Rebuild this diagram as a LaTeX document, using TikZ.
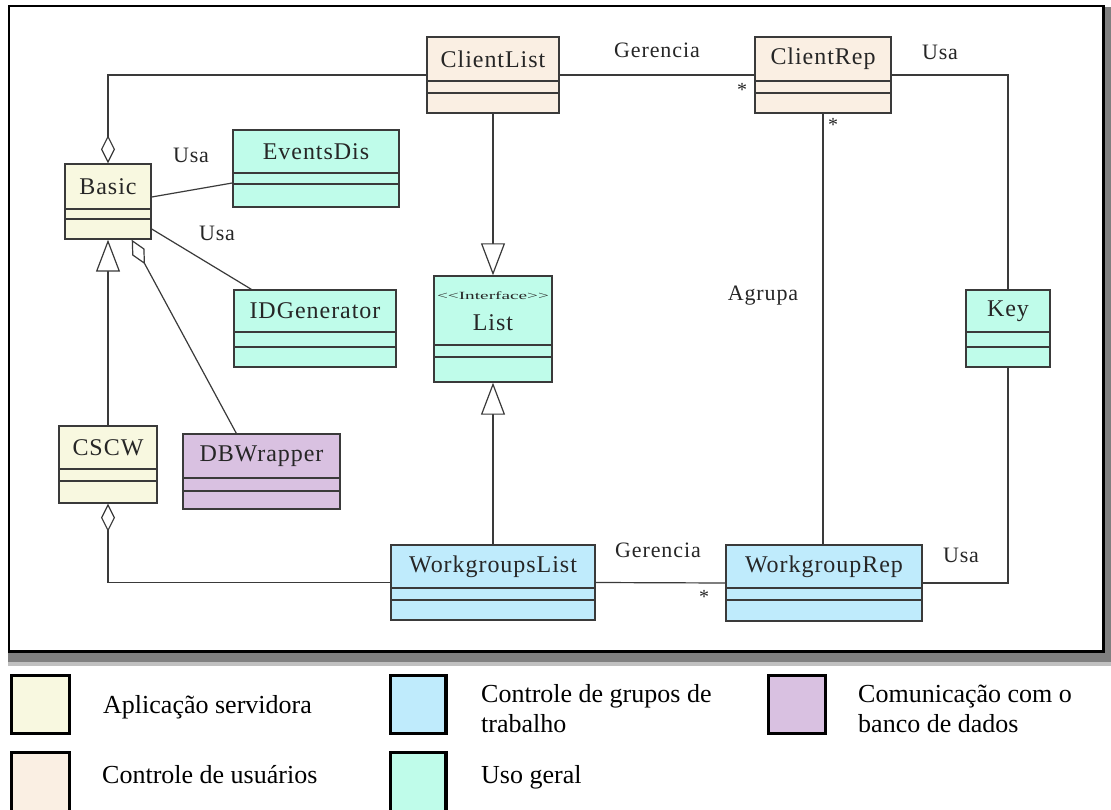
\documentclass[tikz,border=0pt]{standalone}
\usepackage{fontspec}
\usepackage{graphicx}
\setmainfont{Liberation Serif}
\newfontfamily\umlfont[LetterSpace=4]{Liberation Serif}
\usetikzlibrary{arrows.meta,fit,calc}

\definecolor{cyel}{HTML}{F8F8E0}
\definecolor{cpeach}{HTML}{FAEFE3}
\definecolor{cmint}{HTML}{BFFCEA}
\definecolor{cblue}{HTML}{BFEBFC}
\definecolor{clilac}{HTML}{D9C1E1}
\definecolor{edgecol}{HTML}{3A3A3A}
\definecolor{shadowdark}{HTML}{808080}
\definecolor{shadowlight}{HTML}{C0C0C0}

\tikzset{
  classbox/.style={draw=edgecol, line width=1.4pt, inner sep=0pt},
  compline/.style={draw=edgecol, line width=1.2pt},
  ctitle/.style={font=\umlfont\fontsize{24}{26}\selectfont, text=black!85, inner sep=0pt},
  rolelabel/.style={font=\umlfont\fontsize{22}{24}\selectfont, text=black!85, inner sep=0pt},
  mult/.style={font=\fontsize{20}{20}\selectfont, text=black!85, inner sep=0pt},
  assoc/.style={draw=edgecol, line width=1.2pt},
  aggr/.style={assoc, -{Diamond[open, fill=white, length=28pt, width=14pt]}},
  inherit/.style={assoc, -{Triangle[open, fill=white, length=32pt, width=24pt]}},
  legbox/.style={draw=black, line width=3.5pt},
  legtext/.style={font=\fontsize{26}{30}\selectfont, anchor=base west, inner sep=0pt},
}

% class box: name, fill, left, top, right, bottom, first and second compartment lines, title
\newcommand{\umlclass}[9]{%
  \node[classbox, fill=#2, fit={(#3,#4) (#5,#6)}] (#1) {};
  \draw[compline] (#3,#7) -- (#5,#7) (#3,#8) -- (#5,#8);
  \node[ctitle] (#1-name) at ({(#3+#5)/2},{(#4+#7)/2}) {#9};
}

\begin{document}
\begin{tikzpicture}[x=1pt,y=-1pt]
\useasboundingbox (0,0) rectangle (1111,810);

% framed panel with its drop shadow
\fill[shadowlight] (8,653) rectangle (1111,666);
\fill[shadowdark] (8,653) rectangle (1111,662);
\fill[shadowdark] (1104,7) rectangle (1111,662);
\draw[black, line width=2.8pt, fill=white] (9,6) rectangle (1103.5,651.5);

% classes
\umlclass{clientlist}{cpeach}{427}{37}{559}{113}{81}{93}{ClientList}
\umlclass{clientrep}{cpeach}{755}{37}{891}{113}{81}{93}{ClientRep}
\umlclass{basic}{cyel}{65}{164}{151}{239}{209}{219}{Basic}
\umlclass{eventsdis}{cmint}{233}{130}{399}{207}{173}{184}{EventsDis}
\umlclass{idgen}{cmint}{234}{290}{396}{367}{332}{347}{IDGenerator}
\umlclass{key}{cmint}{966}{290}{1050}{367}{332}{347}{Key}
\umlclass{cscw}{cyel}{59}{426}{157}{503}{469}{481}{CSCW}
\umlclass{dbw}{clilac}{183}{434}{340}{509}{478}{491}{DBWrapper}
\umlclass{wglist}{cblue}{391}{545}{595}{620}{588}{600}{WorkgroupsList}
\umlclass{wgrep}{cblue}{726}{545}{922}{621}{588}{600}{WorkgroupRep}

% interface List with its stereotype
\node[classbox, fill=cmint, fit={(434,276) (552,382)}] (list) {};
\draw[compline] (434,345) -- (552,345) (434,357) -- (552,357);
\node[inner sep=0pt, text=black!85] (list-stereo) at (493,296)
  {\scalebox{1.75}[1]{\fontsize{11}{11}\selectfont <{}<Interface>{}>}};
\node[ctitle] (list-name) at (493,323) {List};

% generalisations
\draw[inherit] (clientlist.south) -- (list.north);
\draw[inherit] (wglist.north) -- (list.south);
\draw[inherit] (cscw.north) -- (basic.south);

% aggregations
\draw[aggr] (clientlist.west) -| (basic.north);
\draw[aggr] (wglist.west) -| (cscw.south);
\draw[aggr] ($(dbw.north west)+(54,0)$) -- ($(basic.south east)+(-20,0)$);

% associations
\draw[assoc] ($(basic.east)+(0,-4.5)$) -- ($(eventsdis.west)+(0,14.5)$);
\draw[assoc] ($(basic.east)+(0,27.5)$) -- ($(idgen.north west)+(18,0)$);
\draw[assoc] (clientlist.east) -- (clientrep.west);
\draw[assoc] (wglist.east) -- (wgrep.west);
\draw[assoc] (clientrep.south) -- (clientrep.south |- wgrep.north);
\draw[assoc] (clientrep.east) -| (key.north);
\draw[assoc] (wgrep.east) -| (key.south);

% association labels and multiplicities
\node[rolelabel] (usa1) at (191,155) {Usa};
\node[rolelabel] (usa2) at (217,233) {Usa};
\node[rolelabel] (ger1) at (657,50) {Gerencia};
\node[rolelabel] (usa3) at (940,52) {Usa};
\node[rolelabel] (agrupa) at (763,296) {Agrupa};
\node[rolelabel] (ger2) at (658,550) {Gerencia};
\node[rolelabel] (usa4) at (961,555) {Usa};
\node[mult] (m1) at (742,90) {*};
\node[mult] (m2) at (833,125) {*};
\node[mult] (m3) at (704,597) {*};

% legend
\draw[legbox, fill=cyel] (11.7,675.7) rectangle (69.3,733.3);
\draw[legbox, fill=cpeach] (11.7,752.7) rectangle (69.3,820);
\draw[legbox, fill=cblue] (390.7,675.7) rectangle (445.8,733.3);
\draw[legbox, fill=cmint] (390.7,752.7) rectangle (445.8,820);
\draw[legbox, fill=clilac] (768.7,675.7) rectangle (825.3,733.3);

\node[legtext] (leg1) at (103,713) {Aplicação servidora};
\node[legtext] (leg2) at (102,783) {Controle de usuários};
\node[legtext] (leg3a) at (481,702) {Controle de grupos de};
\node[legtext] (leg3b) at (481,732) {trabalho};
\node[legtext] (leg4) at (481,783) {Uso geral};
\node[legtext] (leg5a) at (858,702) {Comunicação com o};
\node[legtext] (leg5b) at (858,732) {banco de dados};
\end{tikzpicture}
\end{document}
